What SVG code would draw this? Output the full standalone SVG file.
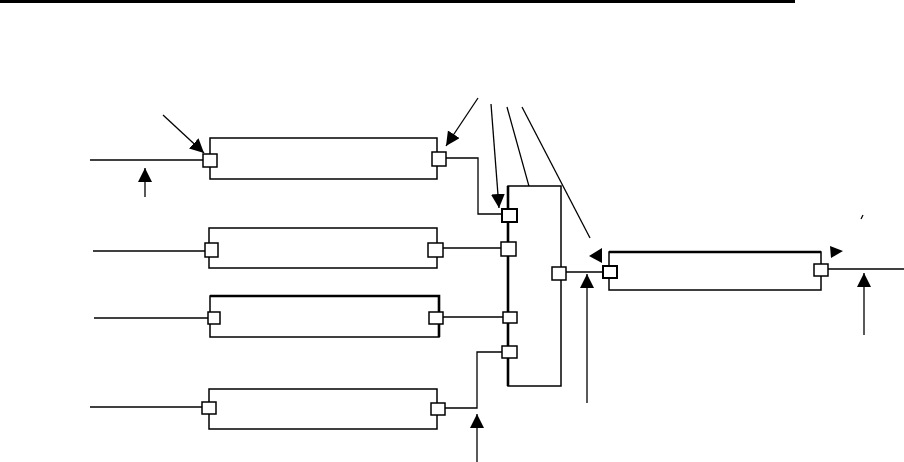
<svg xmlns="http://www.w3.org/2000/svg" width="904" height="462" viewBox="0 0 904 462">
<style>
.box{fill:#fff;stroke:#000;stroke-width:1.5}
.port{fill:#fff;stroke:#000;stroke-width:1.5}
.ln{fill:none;stroke:#000;stroke-width:1.3}
.thick{fill:none;stroke:#000;stroke-width:2.6}
.arr{fill:none;stroke:#000;stroke-width:1.3;marker-end:url(#ah)}
.head{fill:#000;stroke:none}
</style>
<defs>
<marker id="ah" markerUnits="userSpaceOnUse" markerWidth="16" markerHeight="16" refX="14" refY="7" orient="auto">
<path d="M0,0 L14,7 L0,14 z" fill="#000"/>
</marker>
</defs>
<rect x="0" y="0" width="795" height="3" fill="#000"/>
<g id="connectors">
<line class="ln" x1="90" y1="160" x2="203" y2="160"/>
<line class="ln" x1="93" y1="251" x2="205" y2="251"/>
<line class="ln" x1="94" y1="318" x2="208" y2="318"/>
<line class="ln" x1="90" y1="407" x2="202" y2="407"/>
<polyline class="ln" points="446,158 478,158 478,214 502,214"/>
<line class="ln" x1="443" y1="248" x2="501" y2="248"/>
<line class="ln" x1="443" y1="317" x2="503" y2="317"/>
<polyline class="ln" points="502,352 477,352 477,408 445,408"/>
<line class="ln" x1="566" y1="272" x2="603" y2="272"/>
<line class="ln" x1="828" y1="269" x2="904" y2="269"/>
<line class="arr" x1="163" y1="115" x2="204" y2="153"/>
<line class="arr" x1="145" y1="197" x2="145" y2="168"/>
<line class="arr" x1="478" y1="98" x2="446" y2="146"/>
<line class="arr" x1="491" y1="104" x2="499" y2="208"/>
<line class="arr" x1="507" y1="107" x2="550" y2="262"/>
<line class="ln" x1="522" y1="107" x2="590" y2="238"/>
<polygon class="head" points="589,256 602,248 602,263"/>
<line class="arr" x1="477" y1="462" x2="477" y2="414"/>
<line class="arr" x1="587" y1="403" x2="587" y2="274"/>
<line class="arr" x1="864" y1="335" x2="864" y2="273"/>
<polygon class="head" points="830,246 843,251 831,258"/>
<line class="ln" x1="863" y1="215" x2="861" y2="219"/>
</g>
<g id="box1">
<rect class="box" x="210" y="138" width="227" height="41"/>
<rect class="port" x="203" y="154" width="14" height="13"/>
<rect class="port" x="432" y="152" width="14" height="14"/>
</g>
<g id="box2">
<rect class="box" x="209" y="228" width="228" height="40"/>
<rect class="port" x="205" y="243" width="13" height="14"/>
<rect class="port" x="428" y="243" width="15" height="14"/>
</g>
<g id="box3">
<rect class="box" x="210" y="296" width="229" height="41"/>
<polyline class="thick" points="210,296 439,296 439,337"/>
<rect class="port" x="208" y="312" width="12" height="12"/>
<rect class="port" x="429" y="312" width="14" height="12"/>
</g>
<g id="box4">
<rect class="box" x="209" y="389" width="228" height="40"/>
<rect class="port" x="202" y="402" width="14" height="12"/>
<rect class="port" x="431" y="403" width="14" height="12"/>
</g>
<g id="bus">
<rect class="box" x="508" y="186" width="53" height="200"/>
<line class="thick" x1="508" y1="186" x2="508" y2="386"/>
<rect class="port" x="502" y="209" width="15" height="13" style="stroke-width:2"/>
<rect class="port" x="501" y="242" width="15" height="14"/>
<rect class="port" x="503" y="312" width="14" height="11"/>
<rect class="port" x="502" y="346" width="15" height="12"/>
<rect class="port" x="552" y="267" width="14" height="13"/>
</g>
<g id="box5">
<rect class="box" x="609" y="252" width="212" height="38"/>
<line class="thick" x1="609" y1="252" x2="821" y2="252"/>
<rect class="port" x="603" y="266" width="14" height="12" style="stroke-width:2"/>
<rect class="port" x="814" y="264" width="14" height="12"/>
</g>
</svg>
